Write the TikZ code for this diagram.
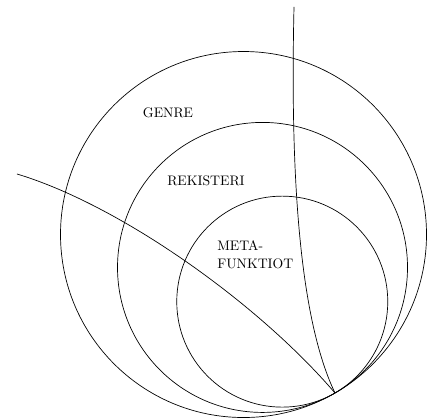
\documentclass[tikz,border=0pt]{standalone}
\usetikzlibrary{calc}

\begin{document}
\begin{tikzpicture}[
  x=0.725pt, y=0.725pt,
  font=\normalsize,
  line width=0.5pt,
  ring/.style={draw},
  curve/.style={draw},
  lbl/.style={inner sep=0pt, align=left}
]
  \useasboundingbox (0,0) rectangle (433,419);

  % common point of the circles
  \coordinate (touch) at (335,26);
  \coordinate (topend) at (294,412);
  \coordinate (leftend) at (17,245);

  \draw[ring] ($(touch)+(120:183)$) circle (183);
  \draw[ring] ($(touch)+(120:145)$) circle (145);
  \draw[ring] ($(touch)+(120:105.5)$) circle (105.5);

  \draw[curve] (topend) .. controls (290,239) and (300,99) .. (touch);
  \draw[curve] (leftend) .. controls (120,214) and (258,116) .. (touch);

  \node[lbl] (genre) at (168,306) {GENRE};
  \node[lbl] (rekisteri) at (206,238) {REKISTERI};
  \node[lbl, anchor=west] (meta) at (217,164) {META-\\[1pt]FUNKTIOT};
\end{tikzpicture}
\end{document}
